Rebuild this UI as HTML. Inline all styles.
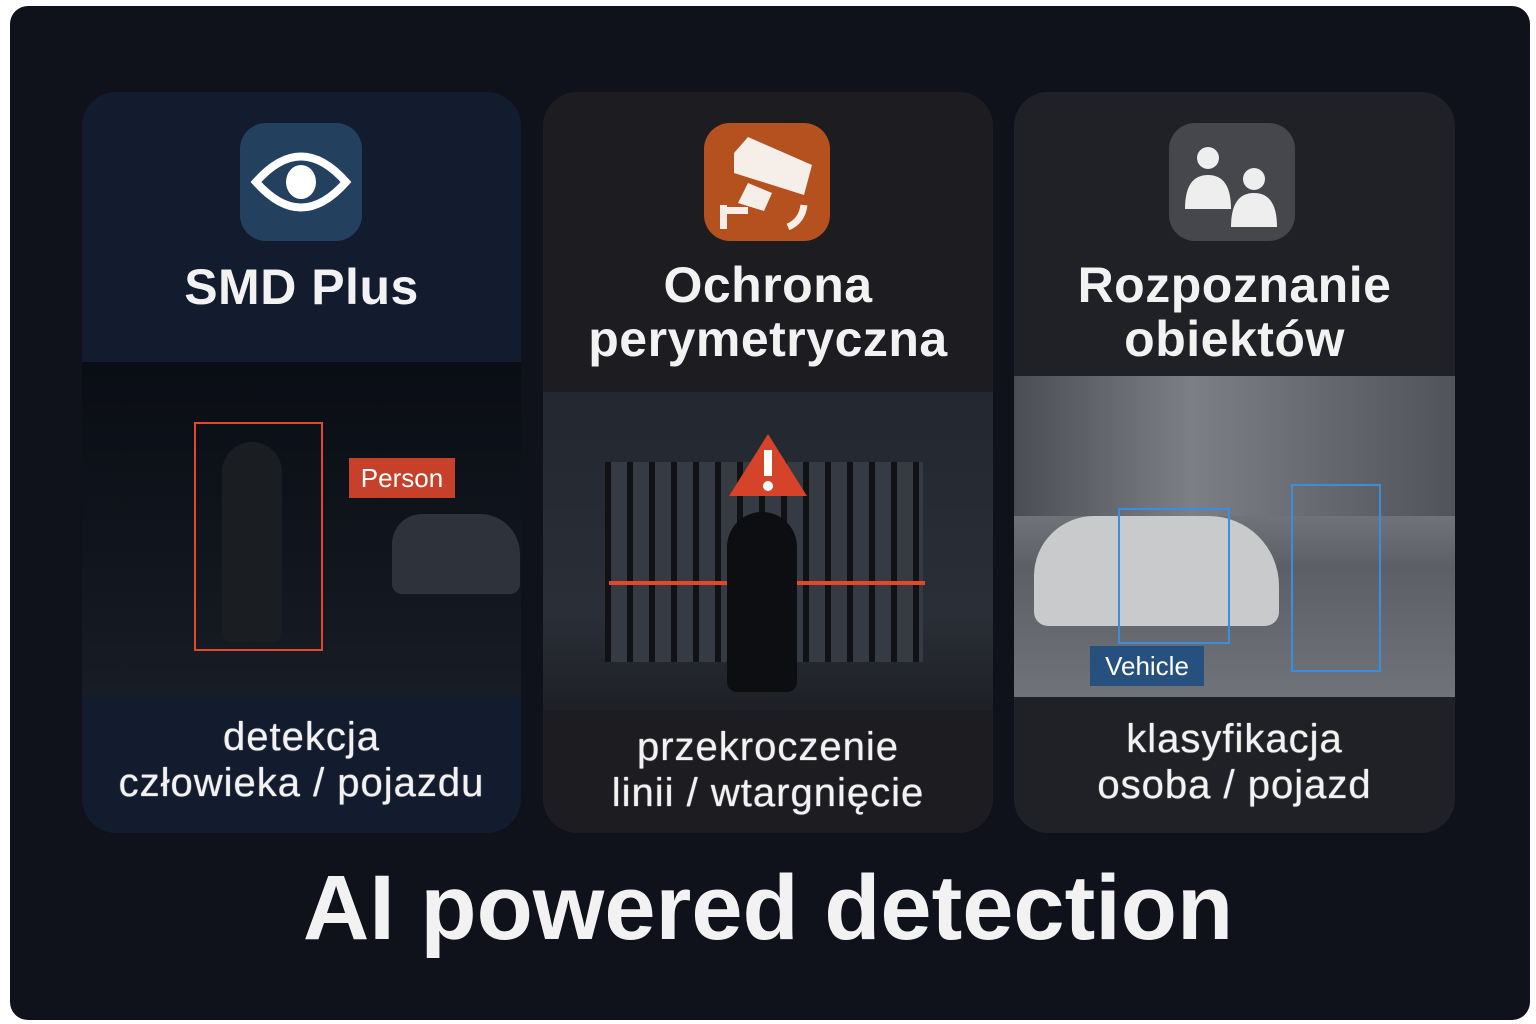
<!DOCTYPE html>
<html><head><meta charset="utf-8"><style>
*{margin:0;padding:0;box-sizing:border-box}
body{width:1536px;height:1024px;background:#fff;position:relative;overflow:hidden;font-family:"Liberation Sans",sans-serif}
.outer{position:absolute;left:10px;top:6px;width:1520px;height:1014px;background:#0f121b;border-radius:18px}
.card{position:absolute;border-radius:34px;overflow:hidden}
.t{position:absolute;width:100%;text-align:center;color:#f2f2f2;font-weight:bold;font-size:50px;line-height:54px;letter-spacing:0.5px}
.b{position:absolute;width:100%;text-align:center;color:#f2f2f2;font-size:40px;line-height:46px;letter-spacing:1px;text-shadow:0 0 1px #f2f2f2}
.img{position:absolute;left:0;width:100%}
.icon{position:absolute;width:124px;height:118px;border-radius:26px}
</style></head><body>
<div class="outer"></div>

<div class="card" style="left:82px;top:92px;width:439px;height:741px;background:#131b2e">
 <div class="icon" style="left:158px;top:31px;width:122px;background:#24405f">
  <svg width="122" height="118"><path d="M16 59 Q61 8 106 59 Q61 110 16 59Z" fill="none" stroke="#fff" stroke-width="8"/><ellipse cx="61" cy="59" rx="15" ry="17" fill="#fff"/></svg>
 </div>
 <div class="t" style="top:168px">SMD Plus</div>
 <div class="img" style="top:270px;height:334px;background:linear-gradient(#0a0d14,#11151d 60%,#181c24)">
  <div style="position:absolute;left:112px;top:60px;width:129px;height:229px;border:2px solid #e04a2a"></div>
  <div style="position:absolute;left:140px;top:80px;width:60px;height:200px;background:#1a1d22;border-radius:30px 30px 8px 8px"></div>
  <div style="position:absolute;left:267px;top:96px;width:106px;height:40px;background:#c7412a;color:#fff;font-size:26px;line-height:40px;text-align:center">Person</div>
  <div style="position:absolute;left:310px;top:152px;width:128px;height:80px;background:#2e333b;border-radius:30px 40px 10px 10px"></div>
 </div>
 <div class="b" style="top:622px">detekcja<br>człowieka / pojazdu</div>
</div>

<div class="card" style="left:543px;top:92px;width:450px;height:741px;background:#1d1c20">
 <div class="icon" style="left:161px;top:31px;width:126px;background:#b4511f">
  <svg width="126" height="118"><path d="M30 30 L44 14 L108 42 L100 72 L30 50Z" fill="#f6eee8"/><path d="M44 60 L68 70 L60 88 L34 80Z" fill="#f6eee8"/><rect x="16" y="82" width="7" height="24" fill="#f6eee8"/><rect x="16" y="84" width="28" height="7" fill="#f6eee8"/><path d="M100 82 Q98 98 84 104" stroke="#f6eee8" stroke-width="7" fill="none"/></svg>
 </div>
 <div class="t" style="top:166px">Ochrona<br>perymetryczna</div>
 <div class="img" style="top:300px;height:318px;background:linear-gradient(#23272f,#2a2e36 70%,#1e2026)">
  <div style="position:absolute;left:62px;top:70px;width:318px;height:200px;background:repeating-linear-gradient(90deg,#101216 0 6px,#363a42 6px 22px)"></div>
  <div style="position:absolute;left:66px;top:189px;width:316px;height:4px;background:#e2472a"></div>
  <svg style="position:absolute;left:184px;top:40px" width="82" height="66"><path d="M41 2 L80 64 L2 64Z" fill="#d5432a"/><rect x="37" y="18" width="8" height="26" fill="#fff"/><circle cx="41" cy="54" r="5" fill="#fff"/></svg>
  <div style="position:absolute;left:184px;top:120px;width:70px;height:180px;background:#0d0e12;border-radius:35px 35px 10px 10px"></div>
 </div>
 <div class="b" style="top:632px">przekroczenie<br>linii / wtargnięcie</div>
</div>

<div class="card" style="left:1014px;top:92px;width:441px;height:741px;background:#1f2126">
 <div class="icon" style="left:155px;top:31px;width:126px;background:#45474d">
  <svg width="126" height="118"><circle cx="39" cy="35" r="11" fill="#eee"/><path d="M16 86 Q16 52 39 52 Q62 52 62 86Z" fill="#eee"/><circle cx="85" cy="56" r="11" fill="#eee"/><path d="M62 104 Q62 70 85 70 Q108 70 108 104Z" fill="#eee"/></svg>
 </div>
 <div class="t" style="top:166px">Rozpoznanie<br>obiektów</div>
 <div class="img" style="top:284px;height:321px;background:linear-gradient(#5e6268,#74787e 40%,#5c6066 60%,#70747a)">
  <div style="position:absolute;left:0;top:0;width:441px;height:140px;background:linear-gradient(90deg,#4a4e54,#7c8086 40%,#50545a)"></div>
  <div style="position:absolute;left:20px;top:140px;width:245px;height:110px;background:#c8cacc;border-radius:60px 70px 14px 14px"></div>
  <div style="position:absolute;left:104px;top:132px;width:112px;height:136px;border:2px solid #3a8ee0"></div>
  <div style="position:absolute;left:277px;top:108px;width:90px;height:188px;border:2px solid #3a8ee0"></div>
  <div style="position:absolute;left:76px;top:270px;width:114px;height:40px;background:#26507e;color:#fff;font-size:26px;line-height:40px;text-align:center">Vehicle</div>
 </div>
 <div class="b" style="top:624px">klasyfikacja<br>osoba / pojazd</div>
</div>

<div style="position:absolute;left:0;width:1536px;top:858px;text-align:center;color:#f2f2f2;font-weight:bold;font-size:92px;line-height:100px">AI powered detection</div>
</body></html>
